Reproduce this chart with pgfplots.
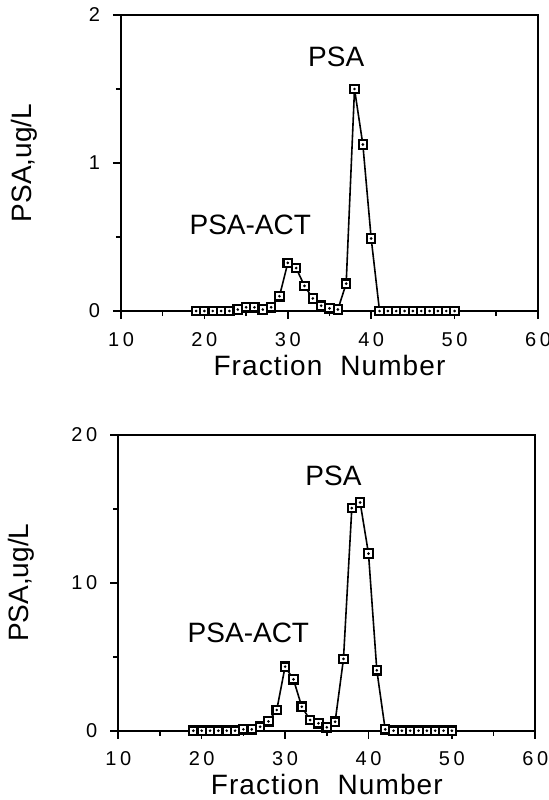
\documentclass[border=0pt]{standalone}
\usepackage{fontspec}
\setmainfont{Liberation Sans}
\newfontfamily\tickfont[LetterSpace=18]{Liberation Sans}
\newfontfamily\labelfont[LetterSpace=4]{Liberation Sans}
\usepackage{pgfplots}
\usepackage{pgfplotstable}
\pgfplotsset{compat=1.18}

% top panel: PSA, ug/L per fraction
\pgfplotstableread{
frac psa
19 0
20 0
21 0
22 0
23 0
24 0.01
25 0.025
26 0.025
27 0.01
28 0.025
29 0.10
30 0.325
31 0.29
32 0.17
33 0.085
34 0.036
35 0.018
36 0.01
37 0.185
38 1.50
39 1.125
40 0.49
41 0
42 0
43 0
44 0
45 0
46 0
47 0
48 0
49 0
50 0
}\topdata

% bottom panel
\pgfplotstableread{
frac psa
19 0
20 0
21 0
22 0
23 0
24 0
25 0.09
26 0.09
27 0.27
28 0.63
29 1.40
30 4.33
31 3.47
32 1.62
33 0.72
34 0.50
35 0.23
36 0.61
37 4.85
38 15.04
39 15.42
40 11.97
41 4.08
42 0.09
43 0
44 0
45 0
46 0
47 0
48 0
49 0
50 0
}\botdata

\pgfplotsset{
  psapanel/.style={
    scale only axis, width=208.5pt, height=148pt,
    xmin=10, xmax=60,
    xtick={10,20,30,40,50,60}, xticklabels={10,20,30,40,50,60},
    minor x tick num=1, minor y tick num=1,
    xtick pos=bottom, ytick pos=left,
    tick align=outside,
    major tick length=4pt, minor tick length=2.5pt,
    axis line style={line width=1pt},
    every tick/.style={black, line width=0.8pt},
    ticklabel style={font=\tickfont\fontsize{10}{12}\selectfont},
    xticklabel style={yshift=-3pt},
    yticklabel style={xshift=-3pt},
    xlabel={Fraction\ \ Number}, ylabel={PSA,ug/L},
    every axis x label/.style={at={(axis description cs:0.5,0)}, anchor=base, yshift=-32pt,
      font=\labelfont\fontsize{14}{16}\selectfont},
    every axis y label/.style={at={(axis description cs:0,0.5)}, rotate=90, anchor=center, yshift=48.5pt,
      font=\fontsize{14}{16}\selectfont},
    clip=false,
  },
  psaline/.style={black, line width=0.8pt, mark=square*, mark size=2.1pt,
    mark options={fill=white, line width=1.1pt}},
  psadot/.style={only marks, mark=*, mark size=0.45pt, black},
}

\begin{document}
\begin{tikzpicture}
\useasboundingbox (0,0) rectangle (274.5pt,-400pt);

\begin{axis}[psapanel, at={(60.5pt,-155.5pt)}, anchor=south west,
  ymin=0, ymax=2, ytick={0,1,2}, yticklabels={0,1,2}]
  \addplot[psaline] table[x=frac, y=psa] {\topdata};
  \addplot[psadot] table[x=frac, y=psa] {\topdata};
  \node[font=\fontsize{14}{16}\selectfont] at (axis cs:35.8,1.716) {PSA};
  \node[font=\fontsize{14}{16}\selectfont] at (axis cs:25.5,0.58) {PSA-ACT};
\end{axis}

\begin{axis}[psapanel, at={(59.15pt,-365.35pt)}, anchor=south west,
  ymin=0, ymax=20, ytick={0,10,20}, yticklabels={0,10,20}]
  \addplot[psaline] table[x=frac, y=psa] {\botdata};
  \addplot[psadot] table[x=frac, y=psa] {\botdata};
  \node[font=\fontsize{14}{16}\selectfont] at (axis cs:35.8,17.2) {PSA};
  \node[font=\fontsize{14}{16}\selectfont] at (axis cs:25.6,6.6) {PSA-ACT};
\end{axis}
\end{tikzpicture}
\end{document}
